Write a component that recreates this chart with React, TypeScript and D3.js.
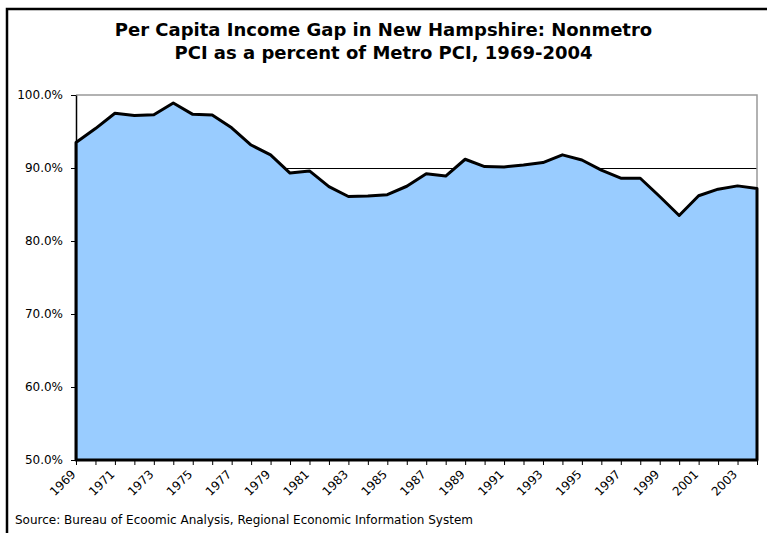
import React, { useEffect, useRef } from 'react';
import * as d3 from 'd3';

const years = [
  1969, 1970, 1971, 1972, 1973, 1974, 1975, 1976, 1977, 1978, 1979, 1980,
  1981, 1982, 1983, 1984, 1985, 1986, 1987, 1988, 1989, 1990, 1991, 1992,
  1993, 1994, 1995, 1996, 1997, 1998, 1999, 2000, 2001, 2002, 2003, 2004,
];

// nonmetro PCI as % of metro PCI
const pciRatio = [
  93.5, 95.4, 97.5, 97.2, 97.3, 98.9, 97.35, 97.25, 95.5, 93.15, 91.8, 89.3,
  89.6, 87.45, 86.1, 86.15, 86.35, 87.5, 89.2, 88.9, 91.2, 90.2, 90.15, 90.4,
  90.75, 91.8, 91.1, 89.7, 88.6, 88.6, 86.1, 83.5, 86.2, 87.1, 87.55, 87.2,
];

const yTicks = [50, 60, 70, 80, 90, 100];

const titleLines = [
  'Per Capita Income Gap in New Hampshire: Nonmetro',
  'PCI as a percent of Metro PCI, 1969-2004',
];
const sourceNote = 'Source: Bureau of Ecoomic Analysis, Regional Economic Information System';

const font = 'Tahoma, "DejaVu Sans", Verdana, sans-serif';

export default function App() {
  const ref = useRef<SVGSVGElement>(null);

  useEffect(() => {
    const svg = d3.select(ref.current);
    svg.selectAll('*').remove();

    const w = 767;
    const h = 533;
    const left = 76, right = 757, top = 95, bottom = 460;

    // chart border (only left/top fall inside the picture)
    svg.append('rect')
      .attr('x', 7).attr('y', 9)
      .attr('width', w + 20).attr('height', h + 20)
      .attr('fill', '#fff')
      .attr('stroke', '#000')
      .attr('stroke-width', 2.5);

    svg.append('g')
      .selectAll('text')
      .data(titleLines)
      .join('text')
      .attr('x', 383.5)
      .attr('y', (d, i) => 36 + i * 23)
      .attr('text-anchor', 'middle')
      .attr('font-family', font)
      .attr('font-weight', 'bold')
      .attr('font-size', 18)
      .text(d => d);

    let x = d3.scaleLinear()
      .domain([years[0], years[years.length - 1]])
      .range([left, right]);

    let y = d3.scaleLinear()
      .domain([50, 100])
      .range([bottom, top]);

    // gridlines behind the area
    svg.append('g')
      .selectAll('line')
      .data(yTicks.filter(t => t > 50 && t < 100))
      .join('line')
      .attr('x1', left).attr('x2', right)
      .attr('y1', d => y(d) + 0.5).attr('y2', d => y(d) + 0.5)
      .attr('stroke', '#000')
      .attr('stroke-width', 1);

    // plot area frame
    svg.append('path')
      .attr('d', `M${left},${top}H${right}V${bottom}`)
      .attr('fill', 'none')
      .attr('stroke', '#999')
      .attr('stroke-width', 1.5);

    const area = d3.area<number>()
      .x((d, i) => x(years[i]))
      .y0(y(50))
      .y1(d => y(d));

    svg.append('path')
      .datum(pciRatio)
      .attr('d', area)
      .attr('fill', '#99ccff')
      .attr('stroke', '#000')
      .attr('stroke-width', 3)
      .attr('stroke-linejoin', 'round');

    let yAxis = d3.axisLeft(y)
      .tickValues(yTicks)
      .tickSize(5)
      .tickSizeOuter(0)
      .tickPadding(8)
      .tickFormat(d => (+d).toFixed(1) + '%');

    let gy = svg.append('g')
      .attr('transform', `translate(${left},0)`)
      .call(yAxis);
    gy.select('.domain').attr('stroke', '#000').attr('stroke-width', 1.5);
    gy.selectAll('text')
      .attr('font-family', font)
      .attr('font-size', 12)
      .attr('fill', '#000');

    let xAxis = d3.axisBottom(x)
      .tickValues(years)
      .tickSize(5)
      .tickSizeOuter(0)
      .tickFormat(d => ((+d - 1969) % 2 === 0 ? String(d) : ''));

    let gx = svg.append('g')
      .attr('transform', `translate(0,${bottom})`)
      .call(xAxis);
    gx.select('.domain').remove();
    gx.selectAll('text')
      .attr('font-family', font)
      .attr('font-size', 12)
      .attr('fill', '#000')
      .attr('text-anchor', 'end')
      .attr('y', 0)
      .attr('dy', '0.35em')
      .attr('transform', 'translate(-3,12) rotate(-45)');

    svg.append('text')
      .attr('x', 15)
      .attr('y', 524)
      .attr('font-family', font)
      .attr('font-size', 12)
      .text(sourceNote);
  }, []);

  return (
    <svg
      ref={ref}
      width={767}
      height={533}
      style={{ position: 'absolute', left: 0, top: 0 }}
    />
  );
}
